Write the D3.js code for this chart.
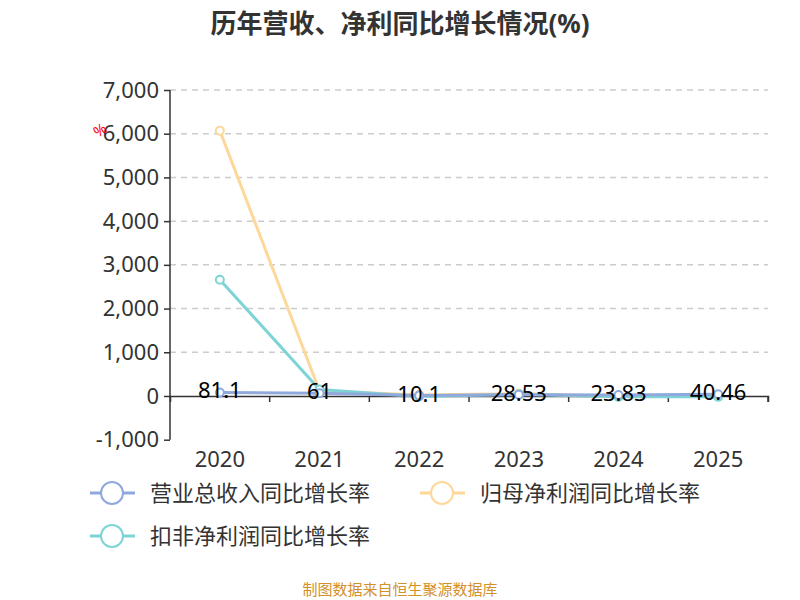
<!DOCTYPE html><html><head><meta charset="utf-8"><script src="https://cdn.jsdelivr.net/npm/d3@7"></script>
<style>body{margin:0;background:#fff}text{font-family:"Noto Sans","Noto Sans CJK SC",sans-serif}</style></head><body>
<svg id="c" width="800" height="600"></svg>
<script>
const years=["2020","2021","2022","2023","2024","2025"];
const revenue=[81.1,61,10.1,28.53,23.83,40.46];
const netProfit=[6070,120,20,55,-10,20];
const deducted=[2660,150,-10,40,-20,-20];
const names=["营业总收入同比增长率","归母净利润同比增长率","扣非净利润同比增长率"];
const colors=["#8fa9dc","#fdd89a","#7dd3d5"];
const yTicks=[-1000,0,1000,2000,3000,4000,5000,6000,7000];
const svg=d3.select("#c");
const x=d3.scaleBand().domain(years).range([170,768]);
const y=d3.scaleLinear().domain([-1000,7000]).range([439.7,90]);
svg.append("text").attr("x",400).attr("y",33).attr("text-anchor","middle").attr("font-size",26).attr("font-weight","bold").attr("fill","#333").text("历年营收、净利同比增长情况(%)");
svg.selectAll(".g").data(yTicks.filter(d=>d!=0&&d!=-1000)).enter().append("line").attr("x1",170).attr("x2",768).attr("y1",d=>y(d)).attr("y2",d=>y(d)).attr("stroke","#ccc").attr("stroke-dasharray","6,5").attr("stroke-width",1.5);
const ya=svg.append("g").attr("transform","translate(170,0)").call(d3.axisLeft(y).tickValues(yTicks).tickFormat(d=>d3.format(",")(d).replace("−","-")).tickSize(6));
ya.selectAll("text").attr("font-size",22).attr("fill","#333").attr("dx",-2);
ya.selectAll("line,path").attr("stroke","#333").attr("stroke-width",1.5);
ya.select("path").attr("d","M0,439.7V90");
const xa=svg.append("g").attr("transform",`translate(0,${y(0)})`).call(d3.axisBottom(x).tickSize(6).tickSizeOuter(6));
xa.selectAll(".tick line").attr("transform",`translate(${x.bandwidth()/2},0)`);
xa.selectAll("text").attr("font-size",22).attr("fill","#333").attr("dy",62);
xa.selectAll("line,path").attr("stroke","#333").attr("stroke-width",1.5);
svg.append("text").attr("x",98).attr("y",138).attr("fill","red").attr("font-size",15).attr("transform","rotate(-35,98,138)").text("%");
const cx=d=>x(d)+x.bandwidth()/2;
[netProfit,deducted,revenue].forEach((s,k)=>{
  const i=[1,2,0][k];
  svg.append("path").datum(s).attr("fill","none").attr("stroke",colors[i]).attr("stroke-width",3)
    .attr("d",d3.line().x((d,j)=>cx(years[j])).y(d=>y(d)));
  svg.selectAll(null).data(s).enter().append("circle").attr("cx",(d,j)=>cx(years[j])).attr("cy",d=>y(d)).attr("r",4).attr("fill","#fff").attr("stroke",colors[i]).attr("stroke-width",2);
});
svg.selectAll(null).data(revenue).enter().append("text").attr("x",(d,j)=>cx(years[j])).attr("y",d=>y(d)+6).attr("text-anchor","middle").attr("font-size",22).attr("fill","#000").text(d=>d);
const leg=[[90,493],[420,493],[90,536]];
names.forEach((n,i)=>{
  const [lx,ly]=leg[i];
  svg.append("line").attr("x1",lx).attr("x2",lx+45).attr("y1",ly).attr("y2",ly).attr("stroke",colors[i]).attr("stroke-width",3);
  svg.append("circle").attr("cx",lx+22).attr("cy",ly).attr("r",11).attr("fill","#fff").attr("stroke",colors[i]).attr("stroke-width",2);
  svg.append("text").attr("x",lx+60).attr("y",ly+8).attr("font-size",22).attr("fill","#333").text(n);
});
svg.append("text").attr("x",400).attr("y",595).attr("text-anchor","middle").attr("font-size",15).attr("fill","#d4902a").text("制图数据来自恒生聚源数据库");
</script></body></html>
